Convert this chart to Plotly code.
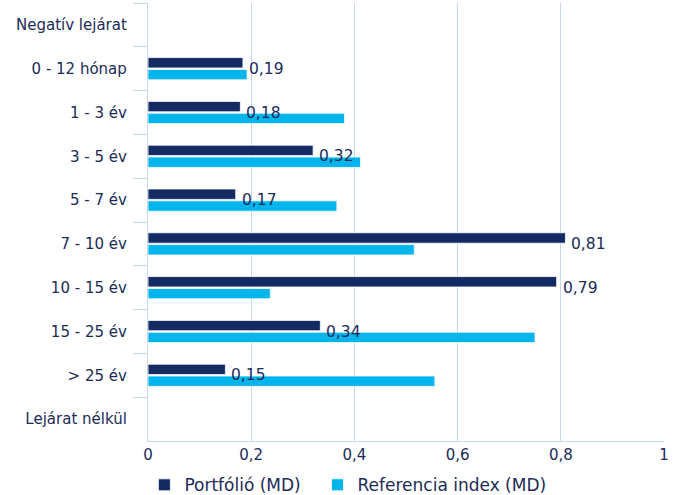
import plotly.graph_objects as go

categories = ["Negatív lejárat", "0 - 12 hónap", "1 - 3 év", "3 - 5 év", "5 - 7 év",
              "7 - 10 év", "10 - 15 év", "15 - 25 év", "> 25 év", "Lejárat nélkül"]
portfolio = [0, 0.184, 0.179, 0.320, 0.170, 0.809, 0.792, 0.334, 0.150, 0]
portfolio_labels = ["", "0,19", "0,18", "0,32", "0,17", "0,81", "0,79", "0,34", "0,15", ""]
referencia = [0, 0.192, 0.381, 0.412, 0.366, 0.516, 0.237, 0.750, 0.556, 0]
x_ticks = [0, 0.2, 0.4, 0.6, 0.8, 1]
x_ticktext = ["0", "0,2", "0,4", "0,6", "0,8", "1"]

navy = "#132a63"
cyan = "#00b5ec"
grid = "#c9d5ea"
txt = "#1c2b58"

fig = go.Figure()
fig.add_trace(go.Bar(y=categories, x=portfolio, orientation="h", name="Portfólió (MD)",
                     marker=dict(color=navy, line=dict(color="white", width=0.8))))
fig.add_trace(go.Bar(y=categories, x=referencia, orientation="h", name="Referencia index (MD)",
                     marker=dict(color=cyan, line=dict(color="white", width=0.8)),
                     legend="legend2"))

# data labels for the portfolio series, centred on the category
for cat, val, lab in zip(categories, portfolio, portfolio_labels):
    if lab:
        fig.add_annotation(x=val, y=cat, text=lab, showarrow=False, xanchor="left",
                           xshift=4, font=dict(size=15.5, color=txt))

legend_style = dict(orientation="h", xanchor="left", y=-0.06, yanchor="top",
                    font=dict(size=17, color=txt), bgcolor="rgba(0,0,0,0)")

fig.update_layout(
    width=677, height=495,
    barmode="group", bargap=0.46, bargroupgap=0.12,
    plot_bgcolor="white", paper_bgcolor="white",
    font=dict(family="DejaVu Sans", size=15, color=txt),
    margin=dict(l=148, r=13, t=3, b=54, autoexpand=False),
    xaxis=dict(range=[0, 1], tickvals=x_ticks, ticktext=x_ticktext, showgrid=True,
               gridcolor=grid, gridwidth=1.3, zeroline=False, showline=True,
               linecolor=grid, linewidth=1.3, tickfont=dict(size=15, color=txt),
               ticks="", automargin=False),
    yaxis=dict(autorange="reversed", showline=True, linecolor=grid, linewidth=1.3,
               ticks="outside", tickson="boundaries", ticklen=14, tickcolor=grid,
               tickwidth=1.3, tickfont=dict(size=15, color=txt), automargin=False,
               ticklabelstandoff=17),
    legend=dict(x=-0.007, **legend_style),
    legend2=dict(x=0.3285, **legend_style),
    showlegend=True,
)

# drop the default page margin so the figure sits at the window's corner
fig.write_html("out.html", config={"displayModeBar": False},
               post_script="document.body.style.margin='0';")
